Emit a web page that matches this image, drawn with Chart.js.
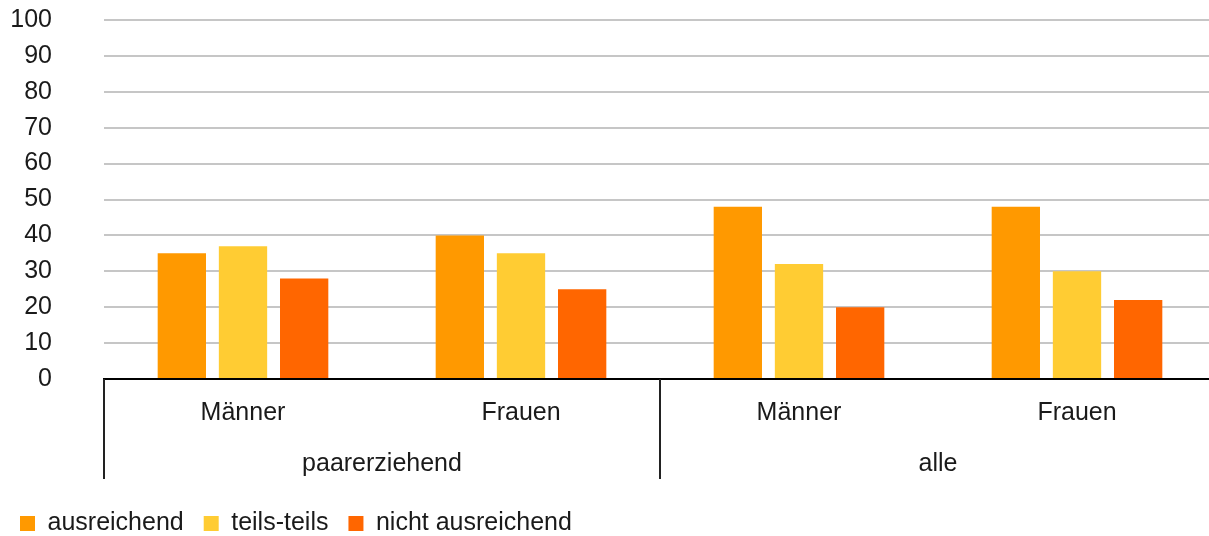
<!DOCTYPE html>
<html lang="de">
<head>
<meta charset="utf-8">
<script src="https://cdn.jsdelivr.net/npm/chart.js@4/dist/chart.umd.min.js"></script>
<style>
  html, body { margin: 0; padding: 0; background: #fff; overflow: hidden; }
  #wrap { width: 1216px; height: 536px; position: relative; }
</style>
</head>
<body>
<div id="wrap"><canvas id="grafico"></canvas></div>
<script>
// Daten
const kategorien = ['Männer', 'Frauen', 'Männer', 'Frauen'];
const gruppen = ['paarerziehend', 'alle'];
const ausreichend = [35, 40, 48, 48];
const teilsTeils = [37, 35, 32, 30];
const nichtAusreichend = [28, 25, 20, 22];
const yTicks = [0, 10, 20, 30, 40, 50, 60, 70, 80, 90, 100];

const schrift = "'Liberation Sans', Arial, sans-serif";
const textFarbe = '#1a1a1a';

// Trennlinien der Gruppenachse
const trennlinien = {
  id: 'trennlinien',
  afterDraw(chart) {
    const ctx = chart.ctx;
    const x = chart.scales.x;
    const x2 = chart.scales.x2;
    const mitte = (x.getPixelForValue(1) + x.getPixelForValue(2)) / 2;
    const oben = chart.chartArea.bottom;
    const unten = x2.top + 52;
    ctx.save();
    ctx.strokeStyle = '#222';
    ctx.lineWidth = 2;
    [chart.chartArea.left, mitte, chart.chartArea.right].forEach(px => {
      ctx.beginPath();
      ctx.moveTo(px, oben);
      ctx.lineTo(px, unten);
      ctx.stroke();
    });
    ctx.restore();
  }
};

new Chart(document.getElementById('grafico'), {
  type: 'bar',
  data: {
    labels: kategorien,
    datasets: [
      { label: 'ausreichend', data: ausreichend, backgroundColor: '#ff9900' },
      { label: 'teils-teils', data: teilsTeils, backgroundColor: '#ffcc33' },
      { label: 'nicht ausreichend', data: nichtAusreichend, backgroundColor: '#ff6600' }
    ]
  },
  options: {
    responsive: true,
    maintainAspectRatio: false,
    animation: false,
    categoryPercentage: 0.66,
    barPercentage: 0.79,
    layout: { padding: { top: 0, left: 0, right: 0, bottom: -10 } },
    plugins: {
      tooltip: { enabled: false },
      legend: {
        position: 'bottom',
        align: 'start',
        labels: {
          boxWidth: 15,
          boxHeight: 15,
          padding: 20,
          color: textFarbe,
          font: { family: schrift, size: 25 }
        }
      }
    },
    scales: {
      y: {
        min: 0,
        max: 100,
        afterFit(scale) {
          scale.width = 104;
          scale.paddingTop = 20;
          scale.paddingBottom = 15;
        },
        afterBuildTicks(scale) { scale.ticks = yTicks.map(v => ({ value: v })); },
        grid: { color: '#c6c6c6', lineWidth: 2, drawTicks: false },
        border: { display: false },
        ticks: {
          autoSkip: false,
          padding: 52,
          color: textFarbe,
          font: { family: schrift, size: 25 }
        }
      },
      x: {
        afterFit(scale) { scale.height = 48; },
        grid: { display: false },
        border: { display: true, color: '#000', width: 2 },
        ticks: {
          padding: 11,
          color: textFarbe,
          maxRotation: 0,
          font: { family: schrift, size: 25 }
        }
      },
      x2: {
        type: 'category',
        position: 'bottom',
        labels: gruppen,
        offset: true,
        afterFit(scale) { scale.height = 64; },
        grid: { display: false },
        border: { display: false },
        ticks: {
          padding: 14,
          color: textFarbe,
          maxRotation: 0,
          font: { family: schrift, size: 25 }
        }
      }
    }
  },
  plugins: [trennlinien]
});
</script>
</body>
</html>
